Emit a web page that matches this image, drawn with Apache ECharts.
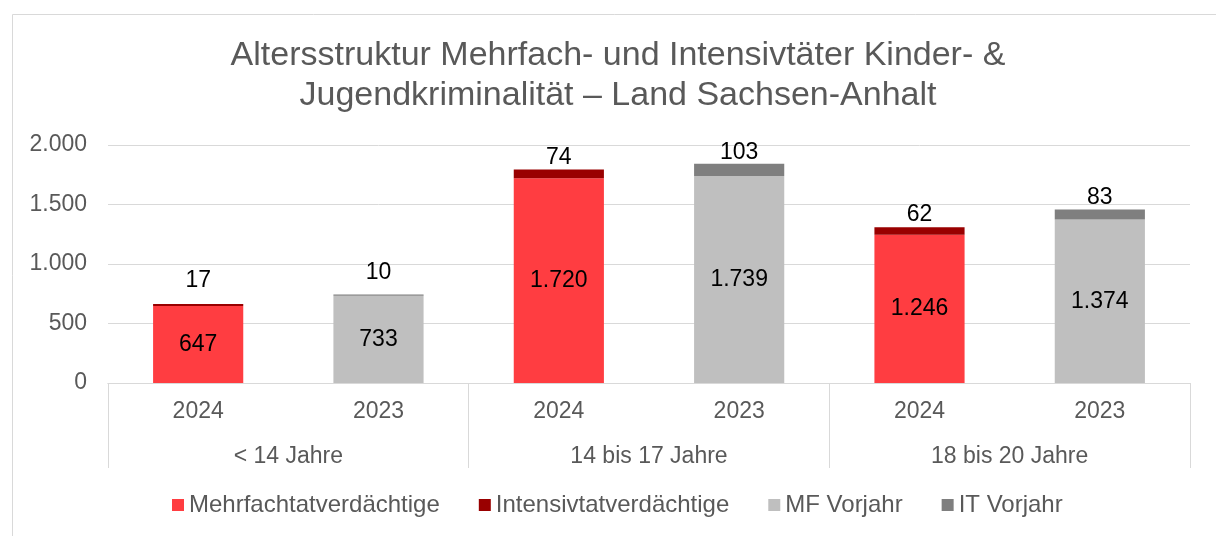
<!DOCTYPE html>
<html lang="de">
  <head>
    <meta charset="utf-8" />
    <title>Altersstruktur Mehrfach- und Intensivtäter</title>
    <script src="https://cdn.jsdelivr.net/npm/echarts@6/dist/echarts.min.js"></script>
    <style>
      html, body { margin: 0; padding: 0; background: #fff; }
      #chart { width: 1216px; height: 536px; }
    </style>
  </head>
  <body>
    <div id="chart"></div>
    <script>
      // data
      var years = ['2024', '2023', '2024', '2023', '2024', '2023']
      var groups = ['< 14 Jahre', '14 bis 17 Jahre', '18 bis 20 Jahre']
      var mehrfach = [647, '-', 1720, '-', 1246, '-']
      var intensiv = [17, '-', 74, '-', 62, '-']
      var mfVorjahr = ['-', 733, '-', 1739, '-', 1374]
      var itVorjahr = ['-', 10, '-', 103, '-', 83]
      var yTicks = [0, 500, 1000, 1500, 2000]

      // gap between bar top and the small value above it (Excel moved the first two by hand)
      var topGap = [12, 10, 0, 0, 1, 0]

      function fmt (v) {
        return String(v).replace(/\B(?=(\d{3})+(?!\d))/g, '.')
      }

      var grey = '#595959'
      var font = 'Liberation Sans, Arial, sans-serif'

      function innerSeries (name, values, color) {
        return {
          name: name,
          type: 'bar',
          stack: 'total',
          barWidth: '50%',
          data: values,
          itemStyle: { color: color },
          label: {
            show: true,
            position: 'inside',
            color: '#000',
            fontSize: 23,
            fontFamily: font,
            formatter: function (p) { return fmt(p.value) }
          }
        }
      }

      function topSeries (name, values, color) {
        return {
          name: name,
          type: 'bar',
          stack: 'total',
          barWidth: '50%',
          itemStyle: { color: color },
          data: values.map(function (v, i) {
            if (v === '-') return v
            return { value: v, label: { distance: topGap[i] } }
          }),
          label: {
            show: true,
            position: 'top',
            color: '#000',
            fontSize: 23,
            fontFamily: font,
            formatter: function (p) { return fmt(p.value) }
          }
        }
      }

      var chart = echarts.init(document.getElementById('chart'))
      chart.setOption({
        animation: false,
        textStyle: { fontFamily: font },
        graphic: [{
          type: 'rect',
          left: 10,
          top: 12,
          shape: { width: 1240, height: 560 },
          style: { fill: 'none', stroke: '#D9D9D9', lineWidth: 1 },
          silent: true
        }],
        title: {
          text: 'Altersstruktur Mehrfach- und Intensivtäter Kinder- &\nJugendkriminalität – Land Sachsen-Anhalt',
          left: 613,
          top: 31,
          textAlign: 'center',
          textStyle: {
            color: grey,
            fontSize: 34,
            fontWeight: 'normal',
            lineHeight: 40,
            fontFamily: font
          }
        },
        legend: {
          top: 493,
          left: 172,
          padding: 0,
          icon: 'rect',
          itemWidth: 12,
          itemHeight: 12,
          itemGap: 39,
          textStyle: { color: grey, fontSize: 24, fontFamily: font },
          data: ['Mehrfachtatverdächtige', 'Intensivtatverdächtige', 'MF Vorjahr', 'IT Vorjahr']
        },
        grid: { left: 108, right: 26, top: 145, bottom: 153, containLabel: false },
        xAxis: [
          {
            type: 'category',
            data: years,
            axisLine: { lineStyle: { color: '#D9D9D9' } },
            axisTick: { show: false },
            axisLabel: { color: grey, fontSize: 23, margin: 17 }
          },
          {
            type: 'category',
            data: groups,
            position: 'bottom',
            axisLine: { lineStyle: { color: '#D9D9D9' } },
            axisTick: { show: true, length: 85, lineStyle: { color: '#D9D9D9' } },
            axisLabel: { color: grey, fontSize: 23, margin: 62 }
          }
        ],
        yAxis: {
          type: 'value',
          min: yTicks[0],
          max: yTicks[yTicks.length - 1],
          interval: 500,
          axisLine: { show: false },
          axisTick: { show: false },
          splitLine: { lineStyle: { color: '#D9D9D9' } },
          axisLabel: {
            color: grey,
            fontSize: 23,
            margin: 21,
            formatter: function (v) { return fmt(v) }
          }
        },
        series: [
          innerSeries('Mehrfachtatverdächtige', mehrfach, '#FF3D41'),
          topSeries('Intensivtatverdächtige', intensiv, '#990000'),
          innerSeries('MF Vorjahr', mfVorjahr, '#BFBFBF'),
          topSeries('IT Vorjahr', itVorjahr, '#7F7F7F')
        ]
      })
    </script>
  </body>
</html>
